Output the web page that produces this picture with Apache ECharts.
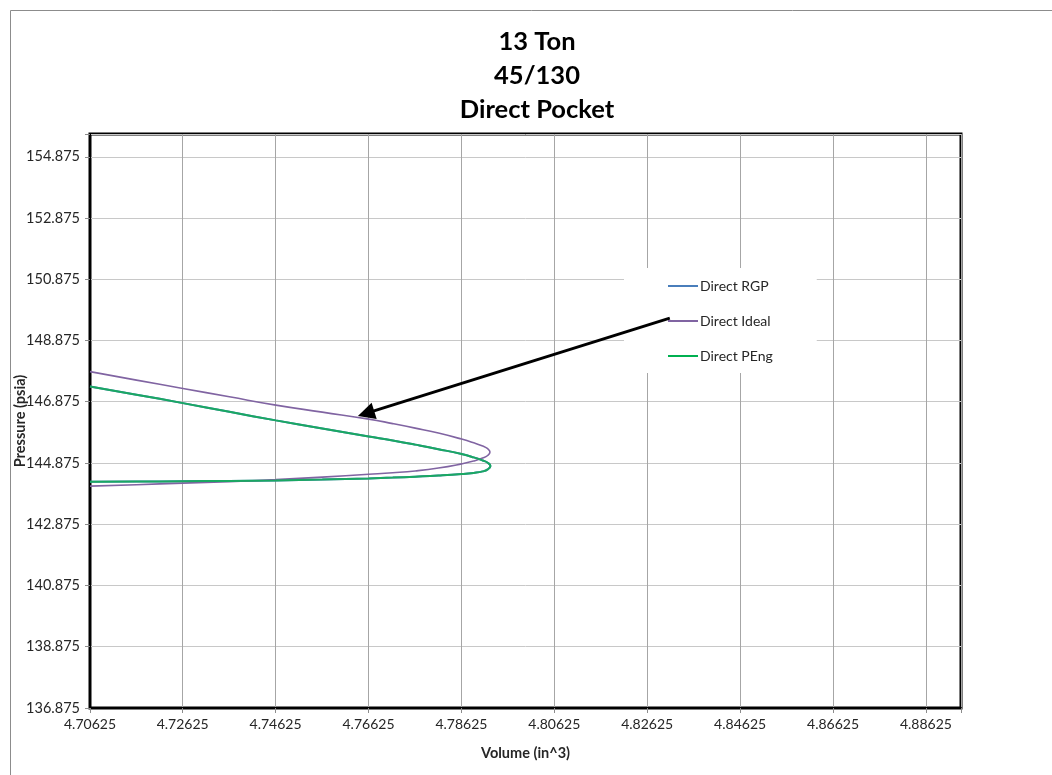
<!DOCTYPE html>
<html>
<head>
<meta charset="utf-8">
<title>13 Ton 45/130 Direct Pocket</title>
<script src="https://cdn.jsdelivr.net/npm/echarts@6/dist/echarts.min.js"></script>
<style>
  html, body { margin: 0; padding: 0; background: #ffffff; }
  #chart { width: 1052px; height: 775px; }
</style>
</head>
<body>
<div id="chart"></div>
<script>
// Tick labels
const xTickLabels = ['4.70625', '4.72625', '4.74625', '4.76625', '4.78625', '4.80625', '4.82625', '4.84625', '4.86625', '4.88625'];
const yTickLabels = ['136.875', '138.875', '140.875', '142.875', '144.875', '146.875', '148.875', '150.875', '152.875', '154.875'];

// Direct Ideal: volume (in^3) and pressure (psia), traced out along the loop
const idealVolume = [
  4.70625, 4.71625, 4.72625, 4.73625, 4.74625, 4.75625, 4.76625, 4.77142, 4.77625, 4.78125,
  4.78625, 4.78884, 4.79078, 4.79186, 4.79235,
  4.79186, 4.79078, 4.78884, 4.78625, 4.78125, 4.77625, 4.77142, 4.76625, 4.75625, 4.74625,
  4.73625, 4.72625, 4.71625, 4.70625
];
const idealPressure = [
  147.862, 147.585, 147.314, 147.040, 146.769, 146.540, 146.312, 146.165, 146.018, 145.855,
  145.659, 145.538, 145.430, 145.345, 145.234,
  145.123, 145.038, 144.940, 144.849, 144.712, 144.617, 144.558, 144.509, 144.418, 144.336,
  144.271, 144.222, 144.170, 144.124
];

// Direct PEng (Direct RGP follows the same path)
const pengVolume = [
  4.70625, 4.71625, 4.72625, 4.73625, 4.74625, 4.75625, 4.76625, 4.77142, 4.77625, 4.78125,
  4.78625, 4.78884, 4.79078, 4.79186, 4.79245,
  4.79186, 4.79078, 4.78884, 4.78625, 4.78125, 4.77625, 4.77142, 4.76625, 4.75625, 4.74625,
  4.73625, 4.72625, 4.71625, 4.70625
];
const pengPressure = [
  147.379, 147.111, 146.834, 146.550, 146.270, 146.005, 145.745, 145.612, 145.478, 145.330,
  145.169, 145.061, 144.960, 144.888, 144.777,
  144.669, 144.604, 144.555, 144.516, 144.467, 144.431, 144.401, 144.375, 144.336, 144.310,
  144.294, 144.281, 144.271, 144.264
];
const rgpVolume = pengVolume.slice();
const rgpPressure = pengPressure.slice();

// Callout arrow pointing at the Direct Ideal curve (volume, pressure)
const arrowFrom = [4.83106, 149.609];
const arrowTo = [4.76567, 146.498];

function pairs(xs, ys) {
  return xs.map((x, i) => [x, ys[i]]);
}
function pickLabel(labels, v, tol) {
  const hit = labels.find(l => Math.abs(parseFloat(l) - v) < tol);
  return hit === undefined ? '' : hit;
}

const FONT = 'Lato, "Open Sans", sans-serif';
const chart = echarts.init(document.getElementById('chart'), null, { renderer: 'canvas' });

chart.setOption({
  backgroundColor: '#ffffff',
  animation: false,
  textStyle: { fontFamily: FONT },
  graphic: [
    {
      type: 'rect',
      silent: true,
      z: -10,
      shape: { x: 10.5, y: 10.5, width: 1100, height: 800 },
      style: { fill: null, stroke: '#8c8c8c', lineWidth: 1 }
    },
    {
      type: 'text',
      silent: true,
      style: {
        text: '13 Ton\n45/130\nDirect Pocket',
        x: 537,
        y: 25,
        textAlign: 'center',
        fill: '#000000',
        font: 'bold 25.5px ' + FONT,
        lineHeight: 34
      }
    }
  ],
  grid: {
    left: 90,
    top: 134,
    width: 871,
    height: 574,
    outerBoundsMode: 'none',
    containLabel: false,
    show: true,
    borderColor: '#000000',
    borderWidth: 3,
    backgroundColor: 'transparent'
  },
  legend: {
    orient: 'vertical',
    left: 624,
    top: 268,
    backgroundColor: '#ffffff',
    padding: [11, 44, 10, 44],
    itemGap: 21,
    itemWidth: 30,
    itemHeight: 2,
    icon: 'rect',
    textStyle: { fontFamily: FONT, fontSize: 14, color: '#262626', padding: [0, 0, 0, -3] },
    data: ['Direct RGP', 'Direct Ideal', 'Direct PEng']
  },
  xAxis: {
    type: 'value',
    min: 4.70625,
    max: 4.89375,
    interval: 0.02,
    name: 'Volume (in^3)',
    nameLocation: 'middle',
    nameGap: 38,
    nameMoveOverlap: false,
    nameTextStyle: { fontFamily: FONT, fontSize: 14.5, fontWeight: 'bold', color: '#262626' },
    axisLine: { show: true, onZero: false, lineStyle: { color: '#000000', width: 2 } },
    axisTick: { show: true, length: 5, lineStyle: { color: '#8c8c8c' } },
    axisLabel: {
      margin: 9,
      fontFamily: FONT,
      fontSize: 14,
      color: '#262626',
      formatter: v => pickLabel(xTickLabels, v, 0.001)
    },
    splitLine: { show: true, lineStyle: { color: '#a6a6a6', width: 1 } }
  },
  yAxis: {
    type: 'value',
    min: 136.875,
    max: 155.625,
    interval: 2,
    name: 'Pressure (psia)',
    nameLocation: 'middle',
    nameGap: 62,
    nameMoveOverlap: false,
    nameTextStyle: { fontFamily: FONT, fontSize: 14.5, fontWeight: 'bold', color: '#262626' },
    axisLine: { show: true, onZero: false, lineStyle: { color: '#000000', width: 2 } },
    axisTick: { show: true, length: 5, lineStyle: { color: '#8c8c8c' } },
    axisLabel: {
      margin: 10,
      fontFamily: FONT,
      fontSize: 14.5,
      color: '#262626',
      formatter: v => pickLabel(yTickLabels, v, 0.05)
    },
    splitLine: { show: true, lineStyle: { color: '#c8c8c8', width: 1 } }
  },
  series: [
    {
      name: 'Direct RGP',
      type: 'line',
      data: pairs(rgpVolume, rgpPressure),
      symbol: 'none',
      smooth: 0.5,
      color: '#4a7ebb',
      lineStyle: { width: 2, color: '#4a7ebb' },
      z: 2
    },
    {
      name: 'Direct Ideal',
      type: 'line',
      data: pairs(idealVolume, idealPressure),
      symbol: 'none',
      smooth: 0.5,
      color: '#8064a2',
      lineStyle: { width: 1.6, color: '#8064a2' },
      z: 3,
      markLine: {
        silent: true,
        symbol: ['none', 'triangle'],
        symbolSize: [17, 17],
        label: { show: false },
        lineStyle: { color: '#000000', width: 3, type: 'solid' },
        data: [[{ coord: arrowFrom }, { coord: arrowTo }]]
      }
    },
    {
      name: 'Direct PEng',
      type: 'line',
      data: pairs(pengVolume, pengPressure),
      symbol: 'none',
      smooth: 0.5,
      color: '#00b050',
      lineStyle: { width: 2, color: '#1aa862' },
      z: 4
    }
  ]
});
</script>
</body>
</html>
